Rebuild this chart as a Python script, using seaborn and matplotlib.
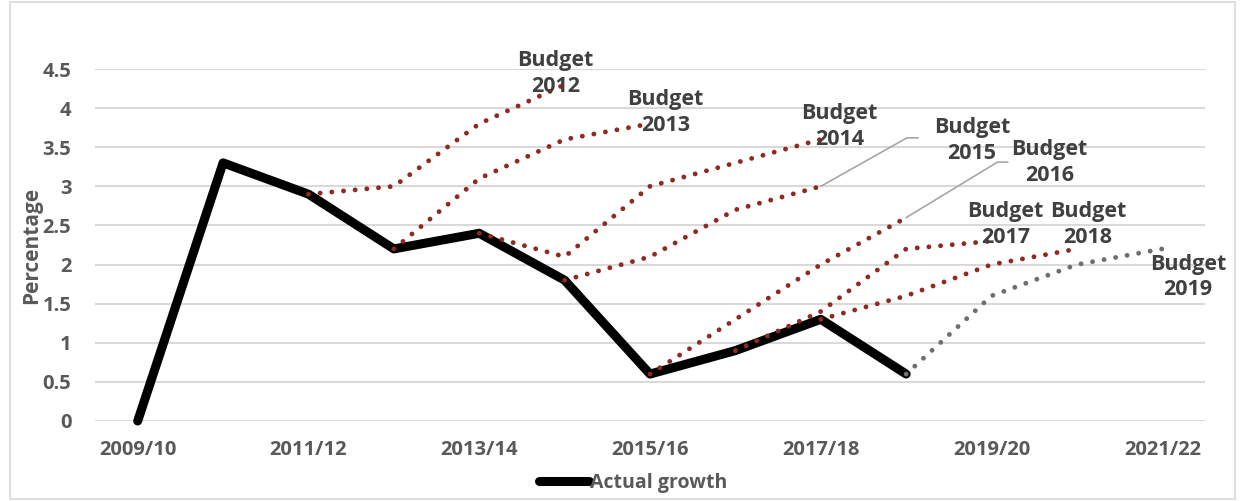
import matplotlib
matplotlib.use("Agg")
import matplotlib.pyplot as plt
import seaborn as sns
from matplotlib.lines import Line2D
from matplotlib.patches import Rectangle

years = ["2009/10", "2010/11", "2011/12", "2012/13", "2013/14", "2014/15", "2015/16",
         "2016/17", "2017/18", "2018/19", "2019/20", "2020/21", "2021/22"]

actual_growth = [0, 3.3, 2.9, 2.2, 2.4, 1.8, 0.6, 0.9, 1.3, 0.6]

# Each budget forecast: (first year index, values)
budget_2012 = (2, [2.9, 3.0, 3.8, 4.3])
budget_2013 = (3, [2.2, 3.1, 3.6, 3.8])
budget_2014 = (4, [2.4, 2.1, 3.0, 3.3, 3.6])
budget_2015 = (5, [1.8, 2.1, 2.7, 3.0])
budget_2016 = (6, [0.6, 1.3, 2.0, 2.6])
budget_2017 = (7, [0.9, 1.4, 2.2, 2.3])
budget_2018 = (8, [1.3, 1.6, 2.0, 2.2])
budget_2019 = (9, [0.6, 1.6, 2.0, 2.2])

budgets = {
    "Budget\n2012": budget_2012,
    "Budget\n2013": budget_2013,
    "Budget\n2014": budget_2014,
    "Budget\n2015": budget_2015,
    "Budget\n2016": budget_2016,
    "Budget\n2017": budget_2017,
    "Budget\n2018": budget_2018,
    "Budget\n2019": budget_2019,
}

# Label anchor (x index, y value) for each budget name
label_pos = {
    "Budget\n2012": (4.89, 4.44),
    "Budget\n2013": (6.18, 3.94),
    "Budget\n2014": (8.22, 3.76),
    "Budget\n2015": (9.77, 3.59),
    "Budget\n2016": (10.68, 3.30),
    "Budget\n2017": (10.16, 2.51),
    "Budget\n2018": (11.13, 2.51),
    "Budget\n2019": (12.30, 1.84),
}

sns.set_theme(style="white")
plt.rcParams["font.family"] = ["Open Sans", "DejaVu Sans"]
plt.rcParams["font.weight"] = "bold"

text_grey = "#595959"
red = "#8E2A22"
grey = "#6E6E6E"

fig = plt.figure(figsize=(12.44, 5.01), dpi=100)
ax = fig.add_axes([95 / 1244, 80 / 501, 1110 / 1244, 352 / 501])

ax.set_xlim(-0.5, len(years) - 0.5)
ax.set_ylim(0, 4.5)

for name, (start, vals) in budgets.items():
    xs = list(range(start, start + len(vals)))
    col = grey if name.endswith("2019") else red
    sns.lineplot(x=xs, y=vals, ax=ax, color=col, lw=3.5, sort=False,
                 linestyle=(0, (0.01, 2.4)), clip_on=False, zorder=3)
    ax.lines[-1].set_dash_capstyle("round")
    ax.lines[-1].set_solid_capstyle("round")

sns.lineplot(x=list(range(len(actual_growth))), y=actual_growth, ax=ax,
             color="black", lw=6.5, clip_on=False, zorder=2, sort=False)

# Budget labels
for name, (lx, ly) in label_pos.items():
    ax.text(lx, ly, name, ha="center", va="center", fontsize=15.5,
            fontweight="bold", color="#404040", linespacing=1.3, zorder=5)

# Leader lines for two labels
leader_col = "#A6A6A6"
ax.plot([8, 9.01, 9.14], [3.0, 3.62, 3.62], color=leader_col, lw=1.2, zorder=1)
ax.plot([9, 10.07, 10.19], [2.6, 3.31, 3.31], color=leader_col, lw=1.2, zorder=1)

# Axes styling
ax.set_yticks([0, 0.5, 1, 1.5, 2, 2.5, 3, 3.5, 4, 4.5])
ax.set_yticklabels(["0", "0.5", "1", "1.5", "2", "2.5", "3", "3.5", "4", "4.5"])
ax.set_xticks(range(0, len(years), 2))
ax.set_xticklabels(years[::2])
ax.grid(axis="y", color="#D9D9D9", lw=1.5)
ax.set_axisbelow(True)
for s in ax.spines.values():
    s.set_visible(False)
ax.tick_params(axis="both", length=0, labelsize=14.5, labelcolor=text_grey)
ax.tick_params(axis="y", pad=17)
ax.tick_params(axis="x", pad=14)
for lab in ax.get_xticklabels() + ax.get_yticklabels():
    lab.set_fontweight("bold")

ax.set_ylabel("Percentage", fontsize=15, fontweight="bold", color=text_grey, labelpad=0)
ax.set_xlabel("")

# Legend
handle = Line2D([], [], color="black", lw=6.5, solid_capstyle="round")
fig.legend([handle], ["Actual growth"], loc="center", bbox_to_anchor=(633 / 1244, 18 / 501),
           frameon=False, handlelength=2.6, handletextpad=0.05,
           labelcolor=text_grey, prop={"weight": "bold", "size": 14})

# Chart border
fig.patches.append(Rectangle((10 / 1244, 2 / 501), 1225 / 1244, 497 / 501,
                             transform=fig.transFigure, fill=False,
                             edgecolor="#D9D9D9", lw=1.2))

fig.savefig("out.png", dpi=100)
